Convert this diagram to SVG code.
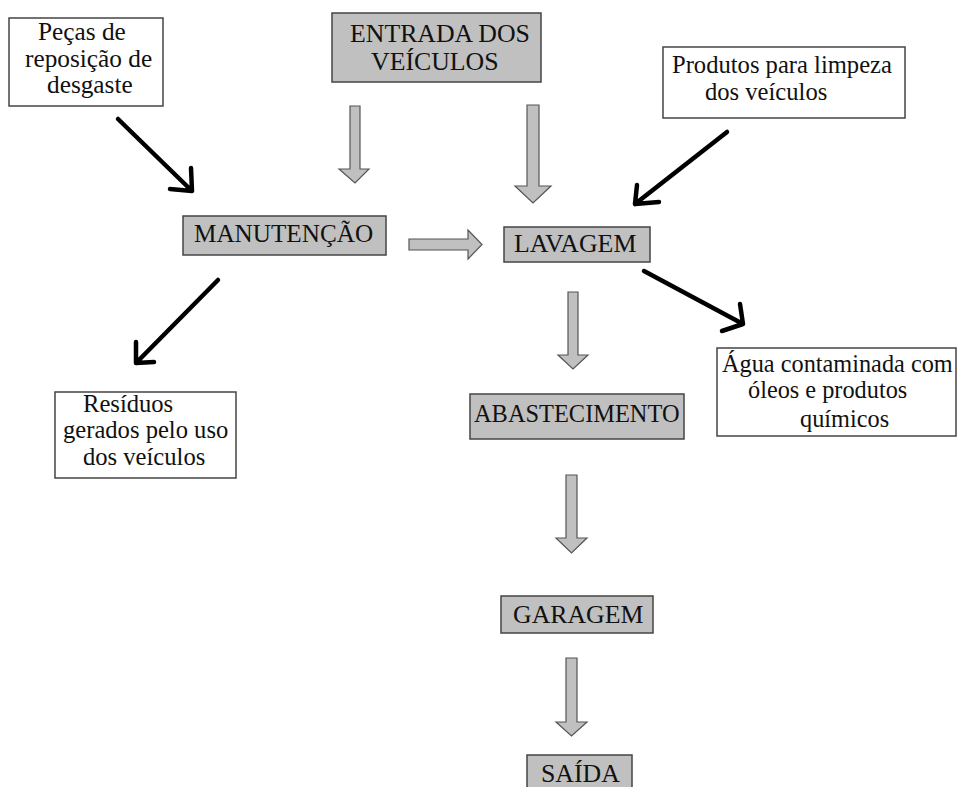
<svg xmlns="http://www.w3.org/2000/svg" width="957" height="787" viewBox="0 0 957 787">
<style>
text{font-family:"Liberation Serif","Times New Roman",serif;font-size:24.6px;fill:#111}
.g text{font-size:25.8px}
.box{fill:#fff;stroke:#444;stroke-width:1.5}
.gbox{fill:#c0c0c0;stroke:#444;stroke-width:1.5}
.blk{fill:none;stroke:#000;stroke-width:4.5;stroke-linecap:round;stroke-linejoin:round}
.garr{fill:#c0c0c0;stroke:#555;stroke-width:1.2}
</style>
<rect width="957" height="787" fill="#fff"/>
<g id="connectors">
<path class="garr" d="M350,106 H360 V169 H369 L355,183 L339,169 H350 Z"/>
<path class="garr" d="M527,105 H539 V186 H551 L533,203 L515,186 H527 Z"/>
<path class="garr" d="M409,239 V250 H468 V259 L482,244.5 L468,230 V239 Z"/>
<path class="garr" d="M568,292 H578 V355 H588 L573,369 L558,355 H568 Z"/>
<path class="garr" d="M566,475 H577 V538 H587 L571.5,553 L556,538 H566 Z"/>
<path class="garr" d="M566,658 H577 V722 H587 L571.5,736 L556,722 H566 Z"/>
<path class="blk" d="M118,119 L192,191 M170,189 L192,191 L191,168"/>
<path class="blk" d="M727,132 L635,204 M637,185 L635,204 L659,202"/>
<path class="blk" d="M218,280 L136,363 M136,342 L136,363 L154,362"/>
<path class="blk" d="M644,271 L743,324 M740,304 L743,324 L722,331"/>
</g>
<g id="pecas">
<rect class="box" x="9" y="18" width="154" height="88"/>
<text x="38" y="40" style="font-size:25.3px">Peças de</text>
<text x="25" y="67" style="font-size:25.3px">reposição de</text>
<text x="47" y="93" style="font-size:25.3px">desgaste</text>
</g>
<g id="entrada" class="g">
<rect class="gbox" x="332" y="13" width="209" height="69"/>
<text x="350" y="42">ENTRADA DOS</text>
<text x="371" y="70">VEÍCULOS</text>
</g>
<g id="produtos">
<rect class="box" x="663" y="47" width="242" height="71"/>
<text x="672" y="73">Produtos para limpeza</text>
<text x="705" y="100">dos veículos</text>
</g>
<g id="manutencao" class="g">
<rect class="gbox" x="183" y="216" width="203" height="39"/>
<text x="194" y="242" style="font-size:25.2px">MANUTENÇÃO</text>
</g>
<g id="lavagem" class="g">
<rect class="gbox" x="504" y="227" width="146" height="35"/>
<text x="514" y="252">LAVAGEM</text>
</g>
<g id="residuos">
<rect class="box" x="55" y="392" width="181" height="86"/>
<text x="83" y="412">Resíduos</text>
<text x="63" y="438">gerados pelo uso</text>
<text x="83" y="465">dos veículos</text>
</g>
<g id="abastecimento" class="g">
<rect class="gbox" x="470" y="394" width="214" height="45"/>
<text x="474" y="422" style="font-size:24.4px">ABASTECIMENTO</text>
</g>
<g id="agua">
<rect class="box" x="717" y="348" width="239" height="88"/>
<text x="722" y="372" style="font-size:24.3px">Água contaminada com</text>
<text x="748" y="398" style="font-size:24.3px">óleos e produtos</text>
<text x="800" y="427" style="font-size:24.3px">químicos</text>
</g>
<g id="garagem" class="g">
<rect class="gbox" x="501" y="596" width="152" height="37"/>
<text x="513" y="623">GARAGEM</text>
</g>
<g id="saida" class="g">
<rect class="gbox" x="527" y="755" width="105" height="40"/>
<text x="541" y="782">SAÍDA</text>
</g>
</svg>
